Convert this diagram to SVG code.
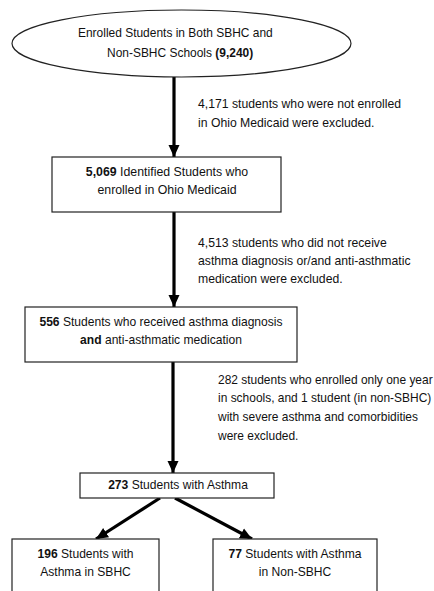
<svg xmlns="http://www.w3.org/2000/svg" width="434" height="591" viewBox="0 0 434 591">
<defs>
<style>
text{font-family:"Liberation Sans",Arial,sans-serif;font-size:13px;fill:#111}
.c{text-anchor:middle}
.b{font-weight:bold}
.box{fill:#fff;stroke:#222;stroke-width:1.2}
.ln{stroke:#000;stroke-width:3.2;fill:none}
</style>
<marker id="ah" markerUnits="userSpaceOnUse" markerWidth="14" markerHeight="14" viewBox="0 0 14 14" refX="12" refY="7" orient="auto">
<path d="M0,1.5 L12,7 L0,12.5 Z" fill="#000"/>
</marker>
</defs>
<rect width="434" height="591" fill="#fff"/>
<g id="connectors">
<line class="ln" x1="174" y1="77" x2="174" y2="157" marker-end="url(#ah)"/>
<line class="ln" x1="174" y1="212" x2="174" y2="307" marker-end="url(#ah)"/>
<line class="ln" x1="173" y1="362" x2="173" y2="473" marker-end="url(#ah)"/>
<line class="ln" x1="160" y1="498" x2="96" y2="539" marker-end="url(#ah)"/>
<line class="ln" x1="175" y1="498" x2="252" y2="539" marker-end="url(#ah)"/>
</g>
<g id="n1">
<ellipse cx="181.5" cy="43.5" rx="169.5" ry="33.5" class="box"/>
<text transform="translate(78,37) scale(0.92,1)">Enrolled Students in Both SBHC and</text>
<text transform="translate(107,57) scale(0.92,1)">Non-SBHC Schools <tspan class="b">(9,240)</tspan></text>
</g>
<g id="e1">
<text transform="translate(198,108) scale(0.94,1)">4,171 students who were not enrolled</text>
<text transform="translate(198,127) scale(0.94,1)">in Ohio Medicaid were excluded.</text>
</g>
<g id="n2">
<rect x="52" y="157" width="229" height="55" class="box"/>
<text class="c" transform="translate(167,176) scale(0.95,1)"><tspan class="b">5,069</tspan> Identified Students who</text>
<text class="c" transform="translate(167,194) scale(0.95,1)">enrolled in Ohio Medicaid</text>
</g>
<g id="e2">
<text transform="translate(198,247) scale(0.94,1)">4,513 students who did not receive</text>
<text transform="translate(198,265) scale(0.94,1)">asthma diagnosis or/and anti-asthmatic</text>
<text transform="translate(198,283) scale(0.94,1)">medication were excluded.</text>
</g>
<g id="n3">
<rect x="25" y="307" width="272" height="55" class="box"/>
<text class="c" transform="translate(161,326) scale(0.93,1)"><tspan class="b">556</tspan> Students who received asthma diagnosis</text>
<text class="c" transform="translate(161,344) scale(0.93,1)"><tspan class="b">and</tspan> anti-asthmatic medication</text>
</g>
<g id="e3">
<text transform="translate(218,384) scale(0.92,1)">282 students who enrolled only one year</text>
<text transform="translate(218,402) scale(0.92,1)">in schools, and 1 student (in non-SBHC)</text>
<text transform="translate(218,421) scale(0.92,1)">with severe asthma and comorbidities</text>
<text transform="translate(218,440) scale(0.92,1)">were excluded.</text>
</g>
<g id="n4">
<rect x="80" y="473" width="194" height="25" class="box"/>
<text class="c" transform="translate(178,489) scale(0.93,1)"><tspan class="b">273</tspan> Students with Asthma</text>
</g>
<g id="n5">
<rect x="12" y="539" width="147" height="60" class="box"/>
<text class="c" transform="translate(85.5,558) scale(0.93,1)"><tspan class="b">196</tspan> Students with</text>
<text class="c" transform="translate(85.5,576) scale(0.93,1)">Asthma in SBHC</text>
</g>
<g id="n6">
<rect x="213" y="539" width="164" height="60" class="box"/>
<text class="c" transform="translate(295,558) scale(0.93,1)"><tspan class="b">77</tspan> Students with Asthma</text>
<text class="c" transform="translate(295,576) scale(0.93,1)">in Non-SBHC</text>
</g>
</svg>
